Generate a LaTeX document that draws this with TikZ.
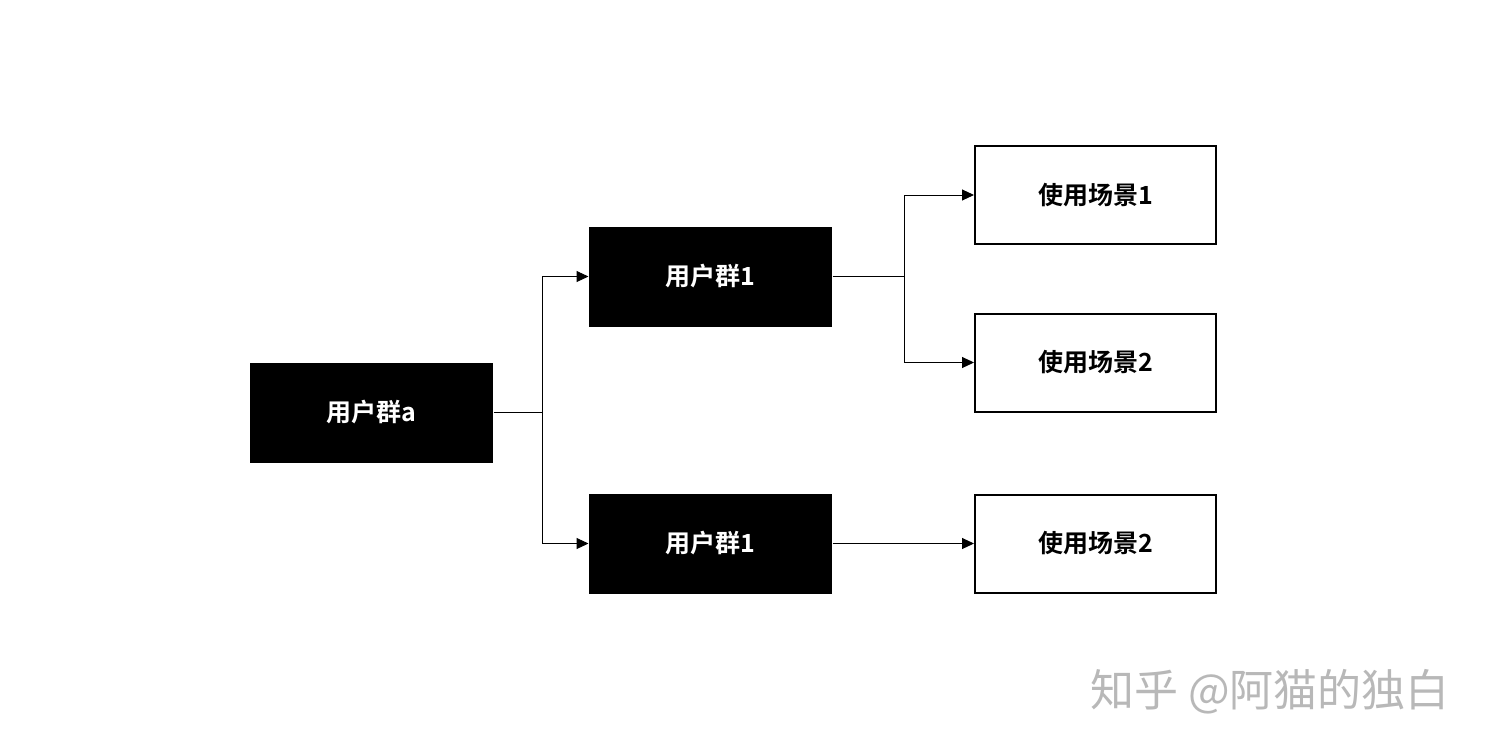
\documentclass[tikz,border=0pt]{standalone}
\usepackage{fontspec}
\usepackage{tikz}
\usetikzlibrary{arrows.meta}
\newfontfamily\cjk{Noto Sans CJK SC}[BoldFont={Noto Sans CJK SC Bold}]
\tikzset{basic/.style={minimum width=243pt,minimum height=100pt,
                       inner sep=0pt,font=\cjk\bfseries\fontsize{25}{30}\selectfont}}
\tikzset{group/.style={basic,fill=black,text=white}}
\tikzset{scene/.style={basic,draw=black,line width=2pt,fill=white,
                       minimum width=241pt,minimum height=98pt}}
\def\colsep{339pt}

\begin{document}
\begin{tikzpicture}[x=1pt,y=-1pt,line width=1pt,
    -{Triangle[length=12pt,width=11pt]}]
    \tikzstyle{link}=[draw=black]
    \useasboundingbox[fill=white] (0,0) rectangle (1490,753);

    % Draw the user group nodes
    \node[group] (G-a) at (371.5,412.5) {用户群a};
    \node[group] (G-1) at (710.5,276.5) {用户群1};
    \node[group] (G-2) at (710.5,543.5) {用户群1};

    % Draw the scene nodes
    \foreach \name / \y / \txt in {1/195/使用场景1,2/362.5/使用场景2,3/543.5/使用场景2}
        \node[scene] (S-\name) at (1095.5,\y) {\txt};

    % Split the first group into the two groups
    \coordinate (J-a) at (542,412.5);
    \draw[link,-] (G-a.east) -- (J-a);
    \foreach \dest in {1,2}
        \draw[link] (J-a) |- (G-\dest.west);

    % Split the upper group into its scenes
    \coordinate (J-1) at (904,276.5);
    \draw[link,-] (G-1.east) -- (J-1);
    \foreach \dest in {1,2}
        \draw[link] (J-1) |- (S-\dest.west);

    % Lower group has a single scene
    \draw[link] (G-2.east) -- (S-3.west);

    % Watermark
    \node[text=black!28,font=\cjk\fontsize{44}{50}\selectfont] (mark) at (1270,692) {知乎 @阿猫的独白};
\end{tikzpicture}
\end{document}
